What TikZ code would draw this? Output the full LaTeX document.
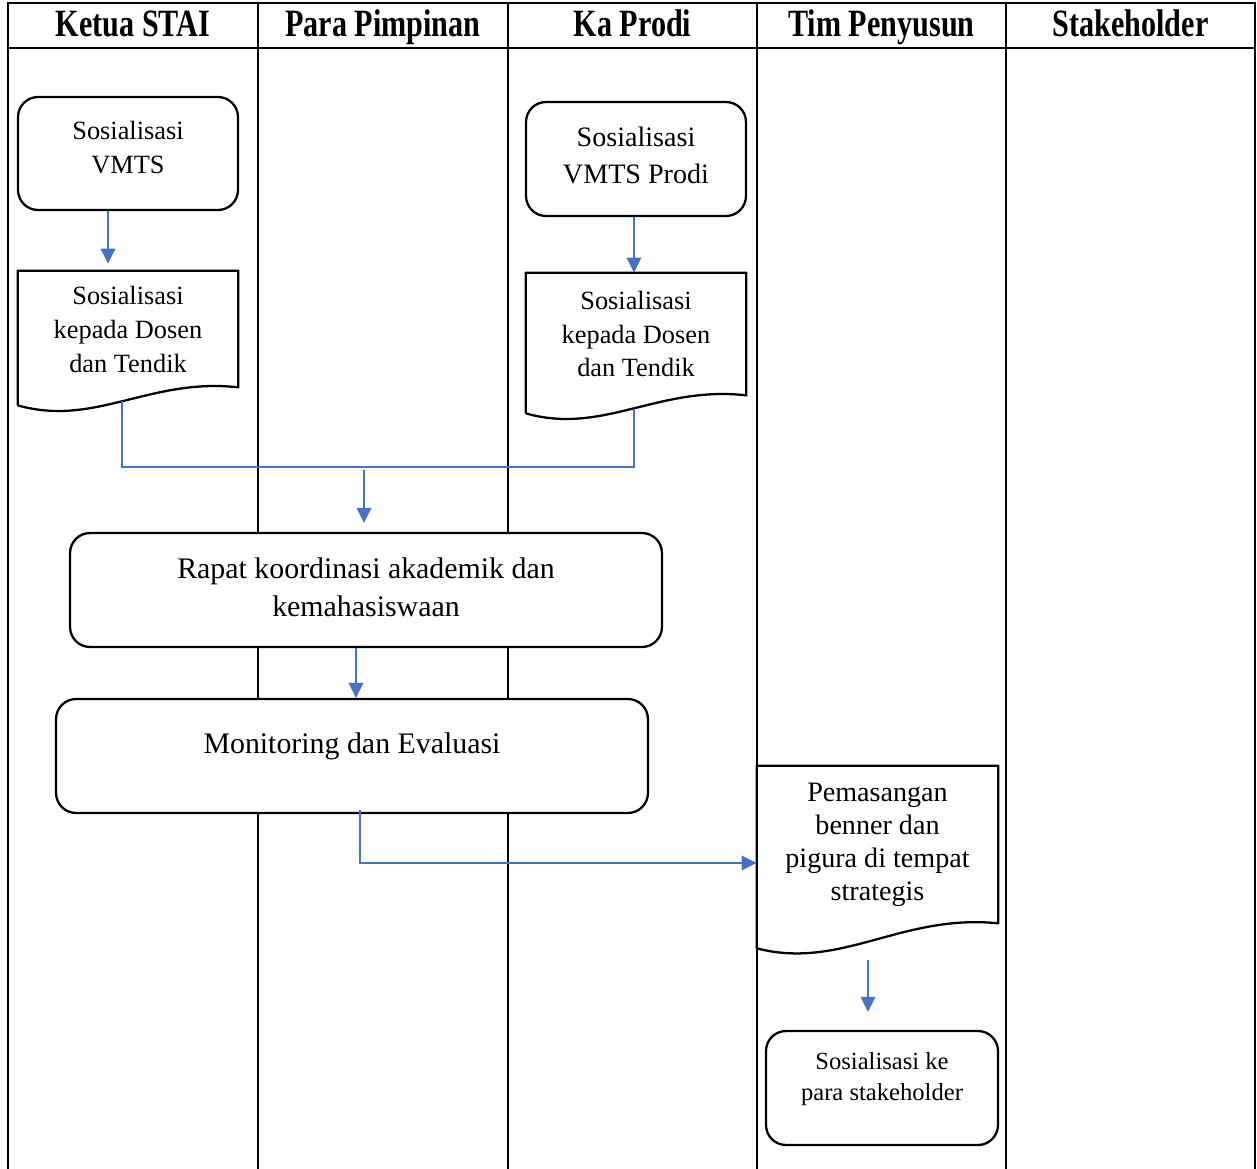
\documentclass[tikz,border=0pt]{standalone}
\usepackage{fontspec}
\setmainfont{Liberation Serif}
\newfontfamily\headfont[FakeStretch=0.78]{Liberation Serif Bold}
\usepackage{tikz}
\usetikzlibrary{
  arrows.meta,
  positioning,
  calc
}
\definecolor{FlowBlue}{RGB}{68,114,196}
\tikzset{
  laneline/.style={line width=1.1pt,draw=black,line cap=rect},
  lanehead/.style={font=\headfont\fontsize{22}{24}\selectfont,anchor=base},
  prosesbox/.style={draw=black,fill=white,line width=1.3pt,rounded corners=4mm,align=center,minimum width=4.4cm,minimum height=2.26cm,font=\fontsize{15}{19.3}\selectfont},
  widebox/.style={prosesbox,minimum width=11.84cm,minimum height=2.28cm,font=\fontsize{17}{21.5}\selectfont},
  dokbox/.style={inner sep=0pt,align=center,minimum width=4.4cm,minimum height=2.32cm,font=\fontsize{15}{19.3}\selectfont},
  dokline/.style={draw=black,line width=1.3pt,line join=round},
  flowarrow/.style={-{Triangle[length=3mm,width=2.9mm]},line width=1.1pt,draw=FlowBlue},
  flowline/.style={line width=0.7pt,draw=FlowBlue}
}
% outline of a document symbol round node #1, bottom wave dipping #2 px
\newcommand\dokoutline[2]{%
  \draw[dokline] ($(#1.south west)+(0,#2)$) -- (#1.north west) -- (#1.north east) -- (#1.south east)
    .. controls ($(#1.south west)!0.6!(#1.south east)+(0,-10)$) and ($(#1.south west)!0.35!(#1.south east)+(0,#2+22)$)
    .. ($(#1.south west)+(0,#2)$);%
}

\begin{document}
\begin{tikzpicture}[x=0.02cm,y=-0.02cm]
\useasboundingbox (0,0) rectangle (1257,1169);

% lanes
\foreach \x in {8,258,508,757,1006,1255}
  \draw[laneline] (\x,3) -- (\x,1169);
\draw[laneline] (8,3) -- (1255,3);
\draw[laneline] (8,48) -- (1255,48);
\node[lanehead] (hketua) at (133,37) {Ketua STAI};
\node[lanehead] (hpimpinan) at (383,37) {Para Pimpinan};
\node[lanehead] (hprodi) at (632.5,37) {Ka Prodi};
\node[lanehead] (htim) at (881.5,37) {Tim Penyusun};
\node[lanehead] (hstake) at (1130.5,37) {Stakeholder};

% steps
\node[prosesbox,text depth=7.4pt] (vmts) at (128,153.5) {Sosialisasi\\VMTS};
\node[dokbox,text depth=-3pt] (dok1) at (128,329) {Sosialisasi\\kepada Dosen\\dan Tendik};
\dokoutline{dok1}{18}
\node[prosesbox,minimum height=2.28cm,text depth=4pt,font=\fontsize{16}{21}\selectfont] (vmtsprodi) at (636,159) {Sosialisasi\\VMTS Prodi};
\node[dokbox,minimum height=2.44cm] (dok2) at (636,334) {Sosialisasi\\kepada Dosen\\dan Tendik};
\dokoutline{dok2}{18}
\node[widebox,text depth=3.4pt] (rapat) at (366,590) {Rapat koordinasi akademik dan\\kemahasiswaan};
\node[widebox,text depth=15pt] (monev) at (352,756) {Monitoring dan Evaluasi};
\node[dokbox,minimum width=4.82cm,minimum height=3.14cm,font=\fontsize{16}{18.8}\selectfont] (dok3) at (877.5,844.5) {Pemasangan\\benner dan\\pigura di tempat\\strategis};
\dokoutline{dok3}{25}
\node[prosesbox,minimum width=4.64cm,minimum height=2.28cm,text depth=13pt,font=\fontsize{14}{18}\selectfont] (sosstake) at (882,1088) {Sosialisasi ke\\para stakeholder};

% flow
\draw[flowarrow,shorten >=0.14cm] ($(vmts.south)+(-20,0)$) -- ($(dok1.north)+(-20,0)$);
\draw[flowarrow] ($(vmtsprodi.south)+(-2,0)$) -- ($(dok2.north)+(-2,0)$);
\coordinate (d1out) at ($(dok1.south)+(-6,14)$);
\coordinate (d2out) at ($(dok2.south)+(-2,14)$);
\coordinate (merge) at (364,467);
\draw[flowline] (d1out) |- (merge) -| (d2out);
\draw[flowarrow,shorten >=0.18cm] ($(merge)+(0,3)$) -- (rapat.north -| merge);
\draw[flowarrow] ($(rapat.south)+(-10,0)$) -- ($(monev.north)+(4,0)$);
\draw[flowarrow,line width=0.8pt] ($(monev.south)+(8,-4)$) |- ($(dok3.west)+(0,18.5)$);
\draw[flowarrow,shorten >=0.36cm] ($(dok3.south)+(-9.5,37)$) -- ($(sosstake.north)+(-14,0)$);
\end{tikzpicture}
\end{document}
